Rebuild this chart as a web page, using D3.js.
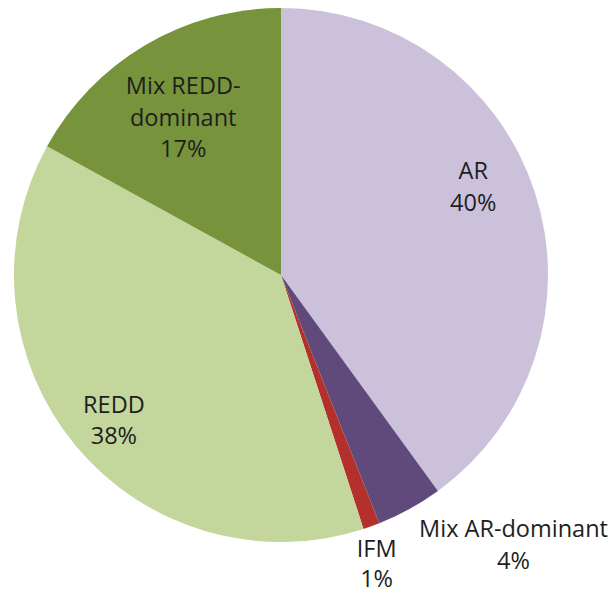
<!DOCTYPE html>
<html>
<head>
<meta charset="utf-8">
<script src="https://cdn.jsdelivr.net/npm/d3@7"></script>
<style>
  html, body { margin: 0; padding: 0; background: #ffffff; }
  svg { display: block; }
  text { font-family: "Open Sans", "Noto Sans", sans-serif; fill: #1e1e1e; }
</style>
</head>
<body>
<svg id="chart" width="611" height="595"></svg>
<script>
// Project type shares (%), clockwise from 12 o'clock
const categories = ["AR", "Mix AR-dominant", "IFM", "REDD", "Mix REDD-dominant"];
const shares = [40, 4, 1, 38, 17];
const labelLines = [["AR"], ["Mix AR-dominant"], ["IFM"], ["REDD"], ["Mix REDD-", "dominant"]];
const colors = ["#ccc1da", "#604a7b", "#b3302c", "#c3d69b", "#77933c"];

const width = 611, height = 595;
const cx = 281, cy = 275, radius = 267;

// label placement: radius along slice mid-angle, plus a small pixel nudge
const labelLayout = {
  "AR":                { r: 200, dx: 2,   dy: -27, lh: 31.5 },
  "Mix AR-dominant":   { r: 300, dx: 88,  dy: 6,   lh: 31.5 },
  "IFM":               { r: 300, dx: -6,  dy: 6,   lh: 30 },
  "REDD":              { r: 200, dx: -13, dy: 17,  lh: 31.5 },
  "Mix REDD-dominant": { r: 200, dx: 4,   dy: 14,  lh: 31.5 }
};

const data = categories.map((c, i) => ({ name: c, value: shares[i], lines: labelLines[i], color: colors[i] }));

const svg = d3.select("#chart");
const g = svg.append("g").attr("transform", `translate(${cx},${cy})`);

const pie = d3.pie().value(d => d.value).sort(null);
const arc = d3.arc().innerRadius(0).outerRadius(radius);
const arcs = pie(data);

g.selectAll("path.slice")
  .data(arcs)
  .join("path")
  .attr("class", "slice")
  .attr("d", arc)
  .attr("fill", d => d.data.color);

const fontSize = 23.5;

const labels = g.selectAll("g.label")
  .data(arcs)
  .join("g")
  .attr("class", "label")
  .attr("transform", d => {
    const L = labelLayout[d.data.name];
    const [x, y] = d3.arc().innerRadius(L.r).outerRadius(L.r).centroid(d);
    return `translate(${x + L.dx},${y + L.dy})`;
  });

labels.each(function(d) {
  const lh = labelLayout[d.data.name].lh;
  const lines = d.data.lines.concat([d.data.value + "%"]);
  const n = lines.length;
  d3.select(this).selectAll("text")
    .data(lines)
    .join("text")
    .attr("text-anchor", "middle")
    .attr("dominant-baseline", "central")
    .attr("font-size", fontSize)
    .attr("y", (t, i) => (i - (n - 1) / 2) * lh)
    .text(t => t);
});
</script>
</body>
</html>
